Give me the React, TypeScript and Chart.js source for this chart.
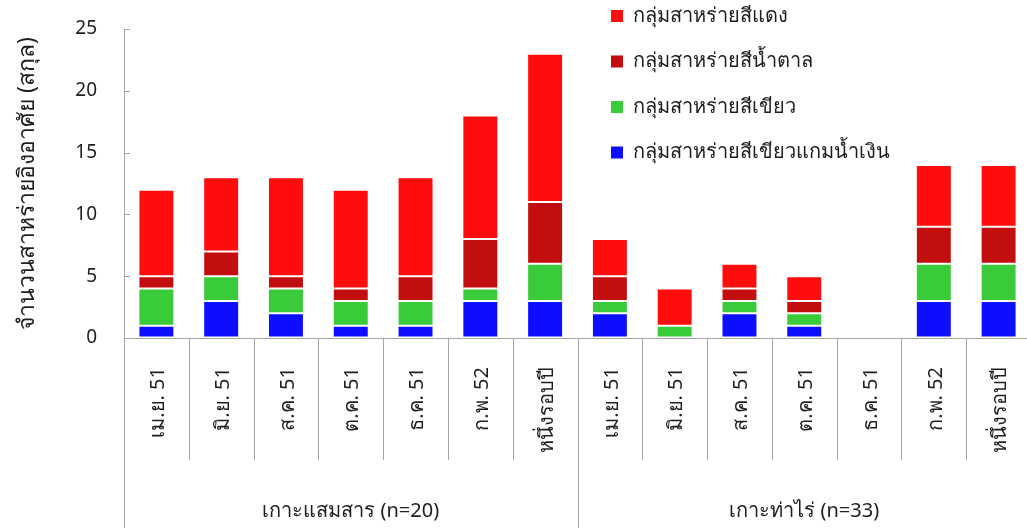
import React, { useEffect, useRef } from "react";
import { Chart, registerables } from "chart.js";

Chart.register(...registerables);

const categories = [
  "เม.ย. 51", "มิ.ย. 51", "ส.ค. 51", "ต.ค. 51", "ธ.ค. 51", "ก.พ. 52", "หนึ่งรอบปี",
  "เม.ย. 51", "มิ.ย. 51", "ส.ค. 51", "ต.ค. 51", "ธ.ค. 51", "ก.พ. 52", "หนึ่งรอบปี",
];
const groups = ["เกาะแสมสาร (n=20)", "เกาะท่าไร่ (n=33)"];
const groupSize = 7;

const blueGreen = [1, 3, 2, 1, 1, 3, 3, 2, 0, 2, 1, 0, 3, 3];
const green = [3, 2, 2, 2, 2, 1, 3, 1, 1, 1, 1, 0, 3, 3];
const brown = [1, 2, 1, 1, 2, 4, 5, 2, 0, 1, 1, 0, 3, 3];
const red = [7, 6, 8, 8, 8, 10, 12, 3, 3, 2, 2, 0, 5, 5];

const seriesNames = [
  "กลุ่มสาหร่ายสีแดง",
  "กลุ่มสาหร่ายสีน้ำตาล",
  "กลุ่มสาหร่ายสีเขียว",
  "กลุ่มสาหร่ายสีเขียวแกมน้ำเงิน",
];
const yTitle = "จำนวนสาหร่ายอิงอาศัย (สกุล)";

const COLORS = {
  red: "#FF0D0D",
  brown: "#C20E0E",
  green: "#3ACB3A",
  blue: "#0D0DFF",
};
const FONT = "Tahoma, 'Noto Sans', 'DejaVu Sans', sans-serif";
const LINE = "#a6a6a6";
const TEXT = "#1e1e1e";

const decorPlugin = {
  id: "decor",
  afterDraw(chart: any) {
    const ctx = chart.ctx;
    const x = chart.scales.x;
    const y = chart.scales.y;
    const area = chart.chartArea;
    const n = categories.length;
    const step = (area.right - area.left) / n;
    ctx.save();
    ctx.strokeStyle = LINE;
    ctx.lineWidth = 1;
    ctx.beginPath();
    ctx.moveTo(area.left, Math.round(area.bottom) + 0.5);
    ctx.lineTo(area.right, Math.round(area.bottom) + 0.5);
    ctx.stroke();
    for (let i = 0; i <= n; i++) {
      const bx = Math.round(area.left + i * step) + 0.5;
      const full = i % groupSize === 0;
      ctx.beginPath();
      ctx.moveTo(bx, area.bottom);
      ctx.lineTo(bx, full ? chart.height : 460);
      ctx.stroke();
    }
    y.ticks.forEach((t: any) => {
      const py = Math.round(y.getPixelForValue(t.value)) + 0.5;
      ctx.beginPath();
      ctx.moveTo(area.left, py);
      ctx.lineTo(area.left + 6, py);
      ctx.stroke();
    });
    ctx.fillStyle = TEXT;
    ctx.font = `20px ${FONT}`;
    ctx.textBaseline = "middle";
    ctx.textAlign = "right";
    categories.forEach((c, i) => {
      const cx = x.getPixelForValue(i) + 2;
      ctx.save();
      ctx.translate(cx, 367);
      ctx.rotate(-Math.PI / 2);
      ctx.fillText(c, 0, 0);
      ctx.restore();
    });
    ctx.font = `20px ${FONT}`;
    ctx.textAlign = "center";
    groups.forEach((g, gi) => {
      const l = area.left + gi * groupSize * step;
      const r = l + groupSize * step;
      ctx.fillText(g, (l + r) / 2, 511);
    });
    const legendColors = [COLORS.red, COLORS.brown, COLORS.green, COLORS.blue];
    ctx.textAlign = "left";
    seriesNames.forEach((s, i) => {
      const cy = 16 + i * 45.5;
      ctx.fillStyle = legendColors[i];
      ctx.fillRect(611, cy - 6, 12, 12);
      ctx.fillStyle = TEXT;
      ctx.fillText(s, 633, cy);
    });
    ctx.restore();
  },
};

export default function App() {
  const ref = useRef<HTMLCanvasElement>(null);
  useEffect(() => {
    if (!ref.current) return;
    const mk = (label: string, data: number[], color: string) => ({
      label,
      data,
      backgroundColor: color,
      borderColor: "rgba(255,255,255,0.75)",
      borderWidth: 1,
      borderSkipped: false,
      barPercentage: 0.555,
      categoryPercentage: 1,
    });
    const chart = new Chart(ref.current, {
      type: "bar",
      data: {
        labels: categories,
        datasets: [
          mk(seriesNames[3], blueGreen, COLORS.blue),
          mk(seriesNames[2], green, COLORS.green),
          mk(seriesNames[1], brown, COLORS.brown),
          mk(seriesNames[0], red, COLORS.red),
        ],
      },
      options: {
        responsive: false,
        animation: false,
        layout: { padding: { top: 29, bottom: 190, right: 9, left: 0 } },
        plugins: { legend: { display: false }, tooltip: { enabled: false } },
        scales: {
          x: { stacked: true, display: false },
          y: {
            stacked: true,
            min: 0,
            max: 25,
            ticks: { stepSize: 5, padding: 0, color: TEXT, font: { size: 19, family: FONT } },
            grid: {
              display: true,
              drawOnChartArea: false,
              drawTicks: true,
              tickLength: 27,
              tickColor: "rgba(0,0,0,0)",
            },
            border: { display: true, color: LINE },
            title: {
              display: true,
              text: yTitle,
              color: TEXT,
              font: { size: 23, family: FONT },
              padding: { top: 14, bottom: 0 },
            },
            afterFit: (s: any) => {
              s.width = 124;
            },
          },
        },
      },
      plugins: [decorPlugin],
    });
    return () => chart.destroy();
  }, []);
  return (
    <div style={{ position: "absolute", left: 0, top: 0, width: 1040, height: 528, background: "#fff" }}>
      <canvas ref={ref} width={1040} height={528} />
    </div>
  );
}
